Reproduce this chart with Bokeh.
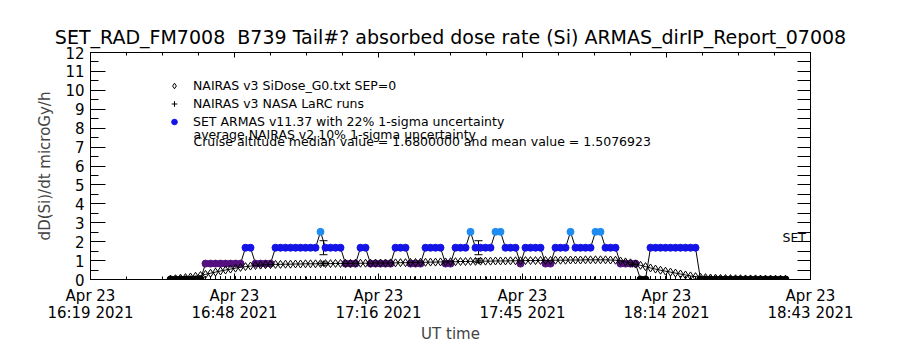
from bokeh.plotting import figure
from bokeh.models import (Range1d, LinearAxis, FixedTicker, Whisker, TeeHead,
                          ColumnDataSource, Label, Legend, LegendItem)
from bokeh.embed import file_html
from bokeh.resources import INLINE

FONT = "DejaVu Sans"

# ---------------- data (time = minutes after 16:19 UT, Apr 23 2021) ----------------
x_tick_min = [0, 28.8, 57.6, 86.4, 115.2, 144]
x_tick_labels = ["Apr 23\n16:19 2021", "Apr 23\n16:48 2021", "Apr 23\n17:16 2021",
                 "Apr 23\n17:45 2021", "Apr 23\n18:14 2021", "Apr 23\n18:43 2021"]

armas_min = [16, 17, 18, 19, 20, 21, 22, 23, 24, 25, 26, 27, 28, 29, 30, 31, 32, 33, 34, 35,
             36, 37, 38, 39, 40, 41, 42, 43, 44, 45, 46, 47, 48, 49, 50, 51, 52, 53, 54, 55,
             56, 57, 58, 59, 60, 61, 62, 63, 64, 65, 66, 67, 68, 69, 70, 71, 72, 73, 74, 75,
             76, 77, 78, 79, 80, 81, 82, 83, 84, 85, 86, 87, 88, 89, 90, 91, 92, 93, 94, 95,
             96, 97, 98, 99, 100, 101, 102, 103, 104, 105, 106, 107, 108, 109, 110, 111, 112,
             113, 114, 115, 116, 117, 118, 119, 120, 121, 122, 123, 124, 125, 126, 127, 128,
             129, 130, 131, 132, 133, 134, 135, 136, 137, 138, 139]

armas_dose = [0, 0, 0, 0, 0, 0, 0,
              0.84, 0.84, 0.84, 0.84, 0.84, 0.84, 0.84, 0.84,
              1.68, 1.68,
              0.84, 0.84, 0.84, 0.84,
              1.68, 1.68, 1.68, 1.68, 1.68, 1.68, 1.68, 1.68, 1.68,
              2.52,
              1.68, 1.68, 1.68, 1.68,
              0.84, 0.84, 0.84,
              1.68, 1.68,
              0.84, 0.84, 0.84, 0.84, 0.84,
              1.68, 1.68, 1.68,
              0.84, 0.84, 0.84,
              1.68, 1.68, 1.68, 1.68,
              0.84, 0.84,
              1.68, 1.68, 1.68,
              2.52,
              1.68, 1.68, 1.68, 1.68,
              2.52, 2.52,
              1.68, 1.68, 1.68,
              0.84,
              1.68, 1.68, 1.68, 1.68,
              0.84, 0.84,
              1.68, 1.68, 1.68,
              2.52,
              1.68, 1.68, 1.68, 1.68,
              2.52, 2.52,
              1.68, 1.68, 1.68,
              0.84, 0.84, 0.84, 0.84,
              0, 0,
              1.68, 1.68, 1.68, 1.68, 1.68, 1.68, 1.68, 1.68, 1.68, 1.68,
              0, 0, 0, 0, 0, 0, 0, 0, 0, 0, 0, 0, 0, 0, 0, 0, 0, 0]

nairas_dose = [0.02, 0.04, 0.07, 0.10, 0.13, 0.17, 0.21,
               0.27, 0.33, 0.39, 0.45, 0.50, 0.55, 0.60, 0.64,
               0.68, 0.71, 0.74, 0.76, 0.78, 0.79,
               0.80, 0.80, 0.81, 0.81, 0.82, 0.82, 0.83, 0.83, 0.83, 0.84, 0.84, 0.84,
               0.85, 0.85, 0.85, 0.85, 0.86, 0.86, 0.86, 0.86, 0.87, 0.87, 0.87, 0.88,
               0.88, 0.89, 0.89, 0.90, 0.90, 0.91, 0.91, 0.92, 0.92, 0.93,
               0.93, 0.94, 0.94, 0.95, 0.95, 0.96, 0.96, 0.97, 0.97, 0.97,
               0.98, 0.98, 0.98, 0.99, 0.99, 0.99, 1.00, 1.00, 1.00, 1.01,
               1.01, 1.01, 1.02, 1.02, 1.02, 1.03, 1.03, 1.03, 1.04, 1.04,
               1.04, 1.04, 1.04, 1.03, 1.02,
               0.98, 0.93, 0.88, 0.82, 0.75, 0.68,
               0.61, 0.55, 0.49, 0.44, 0.39, 0.34, 0.29, 0.24, 0.19, 0.15,
               0.12, 0.10, 0.08, 0.07, 0.06, 0.05, 0.05, 0.04, 0.04, 0.03, 0.03, 0.03,
               0.02, 0.02, 0.02, 0.01, 0.01, 0.01]

larc_zero_dose = [0.0] * len(armas_min)

armas_err_min = [46.6, 77.6]
armas_err_center = [1.68, 1.68]
armas_err_pct = 0.22

larc_err_min = [46.6, 77.6, 108.4]
larc_err_center = [0.84, 0.99, 0.80]
larc_err_pct = 0.10

level_colors = {0.0: "#000000", 0.84: "#54107f", 1.68: "#1414e6", 2.52: "#1e8cf0"}
armas_colors = [level_colors[min(level_colors, key=lambda k: abs(k - v))] for v in armas_dose]

# ---------------- figure ----------------
p = figure(width=900, height=350, x_range=Range1d(0, 144), y_range=Range1d(0, 12),
           output_backend="svg", toolbar_location=None,
           min_border_left=90, min_border_right=90, min_border_top=52, min_border_bottom=71)
p.xgrid.visible = False
p.ygrid.visible = False
p.outline_line_color = "black"
p.background_fill_color = "white"
p.border_fill_color = "white"

p.title.text = "SET_RAD_FM7008\u00a0 B739 Tail#? absorbed dose rate (Si) ARMAS_dirIP_Report_07008"
p.title.align = "center"
p.title.text_font = FONT
p.title.text_font_size = "19px"
p.title.text_font_style = "normal"
p.title.text_color = "black"

x_minor = [7.2 * i for i in range(21)]

xa = p.xaxis[0]
xa.ticker = FixedTicker(ticks=x_tick_min, minor_ticks=x_minor)
xa.major_label_overrides = dict(zip(x_tick_min, x_tick_labels))
xa.major_tick_in = 6
xa.major_tick_out = 0
xa.minor_tick_in = 3
xa.minor_tick_out = 0
xa.major_label_standoff = 7
xa.major_label_text_font = FONT
xa.major_label_text_font_size = "15px"
xa.major_label_text_line_height = 0.95
xa.major_label_text_color = "black"
xa.axis_label = "UT time"
xa.axis_label_standoff = 0
xa.axis_label_text_font = FONT
xa.axis_label_text_font_size = "15px"
xa.axis_label_text_font_style = "normal"
xa.axis_line_color = "black"

# mirror axes (tick marks; their labels are not shown)
top = LinearAxis(ticker=FixedTicker(ticks=x_tick_min, minor_ticks=x_minor),
                 major_label_text_font_size="0px", major_label_standoff=0,
                 major_tick_in=5, major_tick_out=0, minor_tick_in=3, minor_tick_out=0)
p.add_layout(top, "above")

ya = p.yaxis[0]
ya.ticker = FixedTicker(ticks=list(range(13)), minor_ticks=[0.5 * i for i in range(25)])
ya.major_tick_in = 15
ya.major_tick_out = 0
ya.minor_tick_in = 8
ya.minor_tick_out = 0
ya.major_label_standoff = 6
ya.major_label_text_font = FONT
ya.major_label_text_font_size = "15px"
ya.major_label_text_color = "black"
ya.axis_label = "dD(Si)/dt microGy/h"
ya.axis_label_standoff = 8
ya.axis_label_text_font = FONT
ya.axis_label_text_font_size = "15px"
ya.axis_label_text_font_style = "normal"

right = LinearAxis(ticker=FixedTicker(ticks=[0.5 * i for i in range(25)], minor_ticks=[]),
                   major_label_text_font_size="0px", major_label_standoff=0,
                   major_tick_in=13, major_tick_out=0, minor_tick_in=0, minor_tick_out=0)
p.add_layout(right, "right")

# ---------------- series ----------------
src_armas = ColumnDataSource(dict(t=armas_min, dose=armas_dose, color=armas_colors))
p.line("t", "dose", source=src_armas, line_color="black", line_width=1)
armas_pts = p.scatter("t", "dose", source=src_armas, marker="circle", size=7,
                      fill_color="color", line_color="color")

src_n = ColumnDataSource(dict(t=armas_min, dose=nairas_dose))
p.line("t", "dose", source=src_n, line_color="black", line_width=1)
nairas_pts = p.scatter("t", "dose", source=src_n, marker="diamond", size=8,
                       fill_color=None, line_color="black", line_width=1)

src_z = ColumnDataSource(dict(t=armas_min, dose=larc_zero_dose))
larc_pts = p.scatter("t", "dose", source=src_z, marker="cross", size=7,
                     line_color="black", line_width=1)

src_ea = ColumnDataSource(dict(
    t=armas_err_min,
    lo=[c * (1 - armas_err_pct) for c in armas_err_center],
    hi=[c * (1 + armas_err_pct) for c in armas_err_center]))
p.add_layout(Whisker(source=src_ea, base="t", lower="lo", upper="hi", dimension="height",
                     line_color="black", line_width=1,
                     upper_head=TeeHead(size=8, line_color="black", line_width=1),
                     lower_head=TeeHead(size=8, line_color="black", line_width=1)))

src_el = ColumnDataSource(dict(
    t=larc_err_min, c=larc_err_center,
    lo=[c * (1 - larc_err_pct) for c in larc_err_center],
    hi=[c * (1 + larc_err_pct) for c in larc_err_center]))
p.add_layout(Whisker(source=src_el, base="t", lower="lo", upper="hi", dimension="height",
                     line_color="black", line_width=1,
                     upper_head=TeeHead(size=8, line_color="black", line_width=1),
                     lower_head=TeeHead(size=8, line_color="black", line_width=1)))
p.scatter("t", "c", source=src_el, marker="cross", size=6, line_color="black")

# ---------------- legend & notes ----------------
legend = Legend(items=[
    LegendItem(label="NAIRAS v3 SiDose_G0.txt SEP=0", renderers=[nairas_pts]),
    LegendItem(label="NAIRAS v3 NASA LaRC runs", renderers=[larc_pts]),
    LegendItem(label="SET ARMAS v11.37 with 22% 1-sigma uncertainty", renderers=[armas_pts], index=21),
], location=(77, 150), padding=0, margin=0, spacing=3, glyph_width=14, glyph_height=15,
    label_height=15, label_standoff=12, border_line_alpha=0, background_fill_alpha=0,
    label_text_font=FONT, label_text_font_size="12.5px", label_text_color="black")
p.add_layout(legend)

p.add_layout(Label(x=20.6, y=7.65, text="average NAIRAS v2 10% 1-sigma uncertainty",
                   text_font=FONT, text_font_size="12.5px", text_baseline="middle", text_color="black"))
p.add_layout(Label(x=20.6, y=7.30,
                   text="Cruise altitude median value = 1.6800000 and mean value = 1.5076923",
                   text_font=FONT, text_font_size="12.5px", text_baseline="middle", text_color="black"))
p.add_layout(Label(x=138.4, y=2.2, text="SET", text_font=FONT, text_font_size="12.5px",
                   text_baseline="middle", text_color="black"))

open("out.html", "w").write(file_html(p, INLINE))
